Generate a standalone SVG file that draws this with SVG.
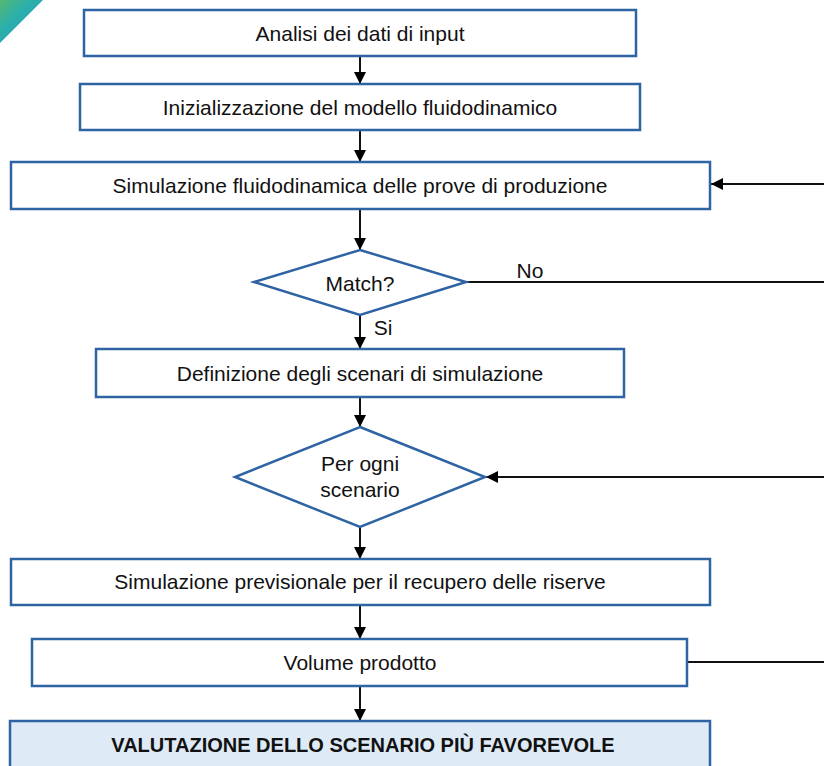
<svg xmlns="http://www.w3.org/2000/svg" width="824" height="766" viewBox="0 0 824 766">
  <style>
    .box { fill: #ffffff; stroke: #2E63A4; stroke-width: 2.5; }
    .final { fill: #DEEAF6; stroke: #2E63A4; stroke-width: 2.5; }
    .lbl { font-family: "Liberation Sans", Arial, sans-serif; font-size: 21px; fill: #111111; text-anchor: middle; dominant-baseline: central; }
    .bold { font-weight: bold; font-size: 20px; }
    .wire { stroke: #111111; stroke-width: 2; fill: none; }
  </style>
  <defs>
    <linearGradient id="corner" x1="0" y1="0" x2="1" y2="1">
      <stop offset="0" stop-color="#55B870"/>
      <stop offset="0.35" stop-color="#2CB0A8"/>
      <stop offset="1" stop-color="#2A96CC"/>
    </linearGradient>
    <marker id="arrow" viewBox="0 0 12 12" refX="12" refY="6" markerWidth="12" markerHeight="12" markerUnits="userSpaceOnUse" orient="auto">
      <path d="M0,0 L12,6 L0,12 Z" fill="#000000"/>
    </marker>
  </defs>

  <!-- corner decoration -->
  <polygon points="0,0 43,0 0,43" fill="url(#corner)"/>

  <!-- connectors -->
  <g id="connectors">
    <line class="wire" x1="360" y1="56" x2="360" y2="84" marker-end="url(#arrow)"/>
    <line class="wire" x1="360" y1="130" x2="360" y2="162" marker-end="url(#arrow)"/>
    <line class="wire" x1="360" y1="209" x2="360" y2="250" marker-end="url(#arrow)"/>
    <line class="wire" x1="360" y1="315" x2="360" y2="349" marker-end="url(#arrow)"/>
    <line class="wire" x1="360" y1="397" x2="360" y2="427" marker-end="url(#arrow)"/>
    <line class="wire" x1="360" y1="527" x2="360" y2="559" marker-end="url(#arrow)"/>
    <line class="wire" x1="360" y1="605" x2="360" y2="639" marker-end="url(#arrow)"/>
    <line class="wire" x1="360" y1="686" x2="360" y2="721" marker-end="url(#arrow)"/>
    <!-- feedback lines leaving to the right edge -->
    <line class="wire" x1="824" y1="184" x2="711" y2="184" marker-end="url(#arrow)"/>
    <line class="wire" x1="466" y1="282" x2="824" y2="282"/>
    <line class="wire" x1="824" y1="477" x2="486" y2="477" marker-end="url(#arrow)"/>
    <line class="wire" x1="687" y1="662" x2="824" y2="662"/>
    <text class="lbl" x="530" y="270">No</text>
    <text class="lbl" x="383" y="327">Si</text>
  </g>

  <g id="input-analysis">
    <rect class="box" x="84" y="10" width="552" height="46"/>
    <text class="lbl" x="360" y="33">Analisi dei dati di input</text>
  </g>

  <g id="model-init">
    <rect class="box" x="80" y="84" width="560" height="46"/>
    <text class="lbl" x="360" y="107">Inizializzazione del modello fluidodinamico</text>
  </g>

  <g id="production-sim">
    <rect class="box" x="11" y="162" width="699" height="47"/>
    <text class="lbl" x="360" y="185">Simulazione fluidodinamica delle prove di produzione</text>
  </g>

  <g id="match">
    <polygon class="box" points="360,250 466,282 360,315 254,282"/>
    <text class="lbl" x="360" y="283">Match?</text>
  </g>

  <g id="scenarios">
    <rect class="box" x="96" y="349" width="528" height="48"/>
    <text class="lbl" x="360" y="373">Definizione degli scenari di simulazione</text>
  </g>

  <g id="each-scenario">
    <polygon class="box" points="360,427 485,477 360,527 235,477"/>
    <text class="lbl" x="360" y="463">Per ogni</text>
    <text class="lbl" x="360" y="489">scenario</text>
  </g>

  <g id="forecast-sim">
    <rect class="box" x="11" y="559" width="699" height="46"/>
    <text class="lbl" x="360" y="581">Simulazione previsionale per il recupero delle riserve</text>
  </g>

  <g id="volume">
    <rect class="box" x="32" y="639" width="655" height="47"/>
    <text class="lbl" x="360" y="662">Volume prodotto</text>
  </g>

  <g id="evaluation">
    <rect class="final" x="10" y="721" width="700" height="60"/>
    <text class="lbl bold" x="363" y="745">VALUTAZIONE DELLO SCENARIO PIÙ FAVOREVOLE</text>
  </g>
</svg>
